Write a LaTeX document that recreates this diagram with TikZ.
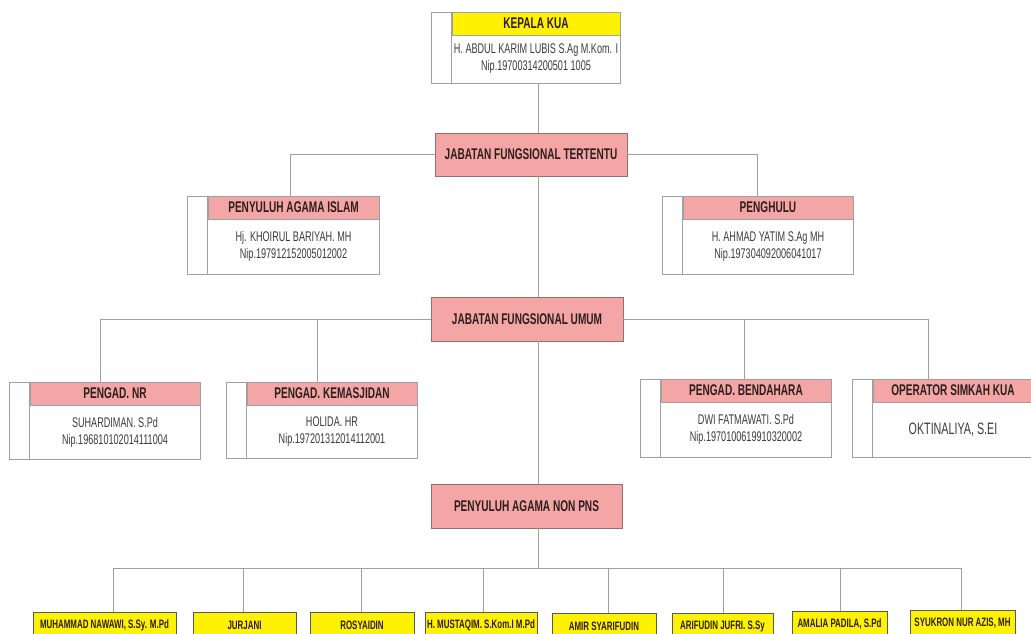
\documentclass[tikz,border=0pt]{standalone}
\usepackage{fontspec}
\setmainfont[FakeStretch=0.65]{Liberation Sans}
\usetikzlibrary{calc}
\definecolor{kuayellow}{RGB}{255,242,0}
\definecolor{kuapink}{RGB}{244,166,166}
\definecolor{kualine}{RGB}{160,160,160}
\definecolor{kuaedge}{RGB}{150,110,110}
\definecolor{kuatext}{RGB}{45,30,30}
\definecolor{kuabody}{RGB}{60,60,60}
\tikzset{
	link/.style={draw=kualine, line width=0.9pt},
	cardframe/.style={draw=kualine, fill=white, line width=0.9pt, inner sep=0pt},
	cardhead/.style={draw=kualine, line width=0.9pt, inner sep=0pt, minimum height=23pt, font=\bfseries\fontsize{15.5}{17}\selectfont, text=kuatext},
	cardbody/.style={align=center, inner sep=0pt, font=\fontsize{14}{17}\selectfont, text=kuabody},
	rankbox/.style={draw=kuaedge, fill=kuapink, line width=0.9pt, inner sep=0pt, font=\bfseries\fontsize{15.5}{17}\selectfont, text=kuatext},
	namebox/.style={draw=black!65, fill=kuayellow, line width=0.9pt, inner sep=0pt, minimum height=26pt, anchor=north, font=\bfseries\fontsize{12.2}{14}\selectfont, text=kuatext}
}
\def\unitcard(#1)(#2,#3)(#4,#5)[#6]#7#8{%
	\node[cardframe, minimum width={(#4-#2)*1pt}, minimum height={(#5-#3)*1pt}] (#1) at ({(#2+#4)/2},{(#3+#5)/2}) {};
	\node[cardhead, fill=#6, minimum width={(#4-#2-21)*1pt}, anchor=north east] (#1h) at (#1.north east) {#7};
	\draw[link] (#1h.north west) -- (#1h.north west |- #1.south);
	\node[cardbody] (#1b) at ({(#2+21+#4)/2},{(#3+23+#5)/2}) {#8};
}

\begin{document}
\begin{tikzpicture}[x=1pt, y=-1pt]
			%%%%% START %%%%%
			\useasboundingbox (0, 0) rectangle (1031, 634);
			\fill[white] (0, 0) rectangle (1031, 634);
			\clip (0, 0) rectangle (1031, 634);
			
			% kepala
			\unitcard(kua)(431,12)(620,83)[kuayellow]{KEPALA KUA}{H. ABDUL KARIM LUBIS S.Ag M.Kom. I\\Nip.19700314200501 1005}
			
			% jabatan
			\node[rankbox, minimum width=192pt, minimum height=43pt] (jft) at (531, 154.5) {JABATAN FUNGSIONAL TERTENTU};
			\node[rankbox, minimum width=192pt, minimum height=44pt] (jfu) at (527, 319) {JABATAN FUNGSIONAL UMUM};
			\node[rankbox, minimum width=191pt, minimum height=44pt] (npns) at (526.5, 506) {PENYULUH AGAMA NON PNS};
			
			\unitcard(pai)(187,196)(379,274)[kuapink]{PENYULUH AGAMA ISLAM}{Hj. KHOIRUL BARIYAH. MH\\Nip.197912152005012002}
			\unitcard(phl)(662,196)(853,274)[kuapink]{PENGHULU}{H. AHMAD YATIM S.Ag MH\\Nip.197304092006041017}
			
			\unitcard(nr)(9,382)(200,459)[kuapink]{PENGAD. NR}{SUHARDIMAN. S.Pd\\Nip.196810102014111004}
			\unitcard(kms)(226,382)(417,458)[kuapink]{PENGAD. KEMASJIDAN}{HOLIDA. HR\\Nip.197201312014112001}
			\unitcard(bdh)(640,379)(831,457)[kuapink]{PENGAD. BENDAHARA}{DWI FATMAWATI. S.Pd\\Nip.1970100619910320002}
			\unitcard(ops)(852,379)(1033,457)[kuapink]{OPERATOR SIMKAH KUA}{\fontsize{16.5}{18}\selectfont OKTINALIYA, S.EI}
			
			% non pns
			\node[namebox, minimum width=143pt] (n1) at (104.5, 612) {MUHAMMAD NAWAWI, S.Sy. M.Pd};
			\node[namebox, minimum width=103pt] (n2) at (244.5, 612) {JURJANI};
			\node[namebox, minimum width=104pt] (n3) at (362, 612) {ROSYAIDIN};
			\node[namebox, minimum width=112pt] (n4) at (481, 612) {H. MUSTAQIM. S.Kom.I M.Pd};
			\node[namebox, minimum width=104pt] (n5) at (604, 613) {AMIR SYARIFUDIN};
			\node[namebox, minimum width=101pt] (n6) at (722.5, 613) {ARIFUDIN JUFRI. S.Sy};
			\node[namebox, minimum width=95pt] (n7) at (839.5, 611) {AMALIA PADILA, S.Pd};
			\node[namebox, minimum width=105pt] (n8) at (962.5, 610) {SYUKRON NUR AZIS, MH};
			
			% garis
			\coordinate (axis) at (538, 0);
			\coordinate (bus) at (0, 568);
			\draw[link] (kua.south -| axis) -- (jft.north -| axis);
			\draw[link] (jft.south -| axis) -- (jfu.north -| axis);
			\draw[link] (jfu.south -| axis) -- (npns.north -| axis);
			\draw[link] (npns.south -| axis) -- (bus -| axis);
			
			\draw[link] (jft.west) -| ([xshift=-3.5pt]paih.north);
			\draw[link] (jft.east) -| (phl.north);
			
			\draw[link] (jfu.west) -| ([xshift=-4.5pt]nr.north);
			\draw[link] (jfu.west) -| ([xshift=-4.5pt]kms.north);
			\draw[link] (jfu.east) -| ([xshift=8.5pt]bdh.north);
			\draw[link] (jfu.east) -| ([xshift=-14.5pt]ops.north);
			
			\draw[link] ([xshift=8.5pt]n1.north |- bus) -- ([xshift=-1.5pt]n8.north |- bus);
			\foreach \n/\dx in {n1/8.5, n2/-1.5, n3/-1, n4/2, n5/4, n6/0.5, n7/0.5, n8/-1.5}
				\draw[link] ([xshift=\dx pt]\n.north |- bus) -- ([xshift=\dx pt]\n.north);
			%%%%% END %%%%%
\end{tikzpicture}
\end{document}
